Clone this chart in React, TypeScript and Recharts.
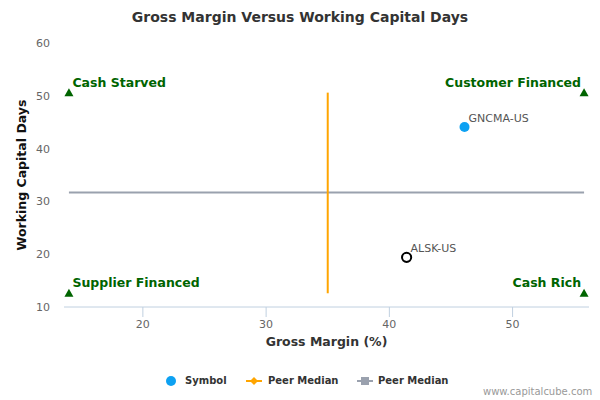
import React from "react";
import { ScatterChart, Scatter, XAxis, YAxis } from "recharts";

const quadrantNames = ["Cash Starved", "Customer Financed", "Supplier Financed", "Cash Rich"];
const quadrantGross = [14.0, 55.8, 14.0, 55.8];
const quadrantWcd = [50.6, 50.6, 12.6, 12.6];

const symbolNames = ["GNCMA-US"];
const symbolGross = [46.1];
const symbolWcd = [44.1];

const focusNames = ["ALSK-US"];
const focusGross = [41.4];
const focusWcd = [19.4];

const grossMedian = 35.0;
const wcdMedian = 31.7;
const medianLow = 12.6;
const medianHigh = 50.6;
const medianLeft = 14.0;
const medianRight = 55.8;

const xTicks = [20, 30, 40, 50];
const yTicks = [10, 20, 30, 40, 50, 60];

const quadrantData = quadrantNames.map((name, i) => ({
  name,
  x: quadrantGross[i],
  y: quadrantWcd[i],
  side: i % 2 === 0 ? "left" : "right",
}));
const symbolData = symbolNames.map((name, i) => ({ name, x: symbolGross[i], y: symbolWcd[i] }));
const focusData = focusNames.map((name, i) => ({ name, x: focusGross[i], y: focusWcd[i] }));
const vMedianData = [
  { x: grossMedian, y: medianLow },
  { x: grossMedian, y: medianHigh },
];
const hMedianData = [
  { x: medianLeft, y: wcdMedian },
  { x: medianRight, y: wcdMedian },
];

const FONT = "'DejaVu Sans', Verdana, sans-serif";
const GREEN = "#006400";
const ORANGE = "#FFA500";
const GREY = "#9AA1AE";
const BLUE = "#0DA1F2";

const QuadrantShape = (props: any) => {
  const { cx, cy, payload } = props;
  const left = payload.side === "left";
  return (
    <g>
      <path d={`M${cx},${cy - 4.5} L${cx + 4.5},${cy + 3.5} L${cx - 4.5},${cy + 3.5} Z`} fill={GREEN} />
      <text
        x={left ? cx + 3.5 : cx - 3}
        y={cy - 6}
        textAnchor={left ? "start" : "end"}
        fill={GREEN}
        fontSize={12.5}
        fontWeight="bold"
        fontFamily={FONT}
      >
        {payload.name}
      </text>
    </g>
  );
};

const SymbolShape = (props: any) => {
  const { cx, cy, payload } = props;
  return (
    <g>
      <circle cx={cx} cy={cy} r={5} fill={BLUE} />
      <text x={cx + 4} y={cy - 5} fill="#555" fontSize={11} fontFamily={FONT}>
        {payload.name}
      </text>
    </g>
  );
};

const FocusShape = (props: any) => {
  const { cx, cy, payload } = props;
  return (
    <g>
      <circle cx={cx} cy={cy} r={4.6} fill="none" stroke="#000" strokeWidth={2} />
      <text x={cx + 4} y={cy - 5} fill="#555" fontSize={11} fontFamily={FONT}>
        {payload.name}
      </text>
    </g>
  );
};

const NoShape = () => <g />;

const LegendBlock = () => {
  const textStyle: React.CSSProperties = {
    position: "absolute",
    top: 0,
    fontSize: 10,
    fontWeight: "bold",
    color: "#333",
    fontFamily: FONT,
    lineHeight: "16px",
    whiteSpace: "nowrap",
  };
  return (
    <div style={{ position: "absolute", left: 0, top: 373, width: 600, height: 16 }}>
      <svg width={600} height={16} style={{ position: "absolute", left: 0, top: 0 }}>
        <circle cx={171} cy={8} r={5} fill={BLUE} />
        <line x1={246} x2={262} y1={8} y2={8} stroke={ORANGE} strokeWidth={2} />
        <path d="M254,4 L258,8 L254,12 L250,8 Z" fill={ORANGE} />
        <line x1={357} x2={373} y1={8} y2={8} stroke={GREY} strokeWidth={2} />
        <rect x={361} y={4} width={8} height={8} fill={GREY} />
      </svg>
      <span style={{ ...textStyle, left: 185 }}>Symbol</span>
      <span style={{ ...textStyle, left: 268 }}>Peer Median</span>
      <span style={{ ...textStyle, left: 378 }}>Peer Median</span>
    </div>
  );
};

export default function App() {
  return (
    <div style={{ position: "absolute", left: 0, top: 0, width: 600, height: 400, background: "#fff", fontFamily: FONT }}>
      <div
        style={{
          position: "absolute",
          top: 7,
          left: 0,
          width: 600,
          textAlign: "center",
          fontSize: 14,
          fontWeight: "bold",
          color: "#333",
          fontFamily: FONT,
          lineHeight: "20px",
        }}
      >
        Gross Margin Versus Working Capital Days
      </div>
      <ScatterChart width={600} height={400} margin={{ top: 43, right: 11, bottom: 53, left: 0 }}>
        <XAxis
          type="number"
          dataKey="x"
          domain={[13.6, 56.2]}
          ticks={xTicks}
          allowDataOverflow
          stroke="#C0D0E0"
          tickSize={10}
          tickMargin={3}
          height={40}
          tick={{ fill: "#666", fontSize: 11, fontFamily: FONT }}
          label={{
            value: "Gross Margin (%)",
            position: "insideBottom",
            offset: 1,
            style: { fill: "#333", fontSize: 12.5, fontWeight: "bold", fontFamily: FONT },
          }}
        />
        <YAxis
          type="number"
          dataKey="y"
          domain={[10, 60]}
          ticks={yTicks}
          allowDataOverflow
          axisLine={false}
          tickLine={false}
          tickSize={0}
          tickMargin={14}
          width={64}
          tick={{ fill: "#666", fontSize: 11, fontFamily: FONT }}
          label={{
            value: "Working Capital Days",
            angle: -90,
            position: "insideLeft",
            offset: 22,
            style: { textAnchor: "middle", fill: "#111", fontSize: 12.5, fontWeight: "bold", fontFamily: FONT },
          }}
        />
        <Scatter name="Peer Median H" data={hMedianData} line={{ stroke: GREY, strokeWidth: 2 }} lineType="joint" shape={<NoShape />} isAnimationActive={false} />
        <Scatter name="Peer Median V" data={vMedianData} line={{ stroke: ORANGE, strokeWidth: 2 }} lineType="joint" shape={<NoShape />} isAnimationActive={false} />
        <Scatter name="Quadrants" data={quadrantData} shape={<QuadrantShape />} isAnimationActive={false} />
        <Scatter name="Symbol" data={symbolData} shape={<SymbolShape />} isAnimationActive={false} />
        <Scatter name="Focus" data={focusData} shape={<FocusShape />} isAnimationActive={false} />
      </ScatterChart>
      <LegendBlock />
      <div
        style={{
          position: "absolute",
          left: 483,
          top: 385,
          fontSize: 10,
          color: "#999",
          fontFamily: FONT,
          lineHeight: "14px",
          whiteSpace: "nowrap",
        }}
      >
        www.capitalcube.com
      </div>
    </div>
  );
}
